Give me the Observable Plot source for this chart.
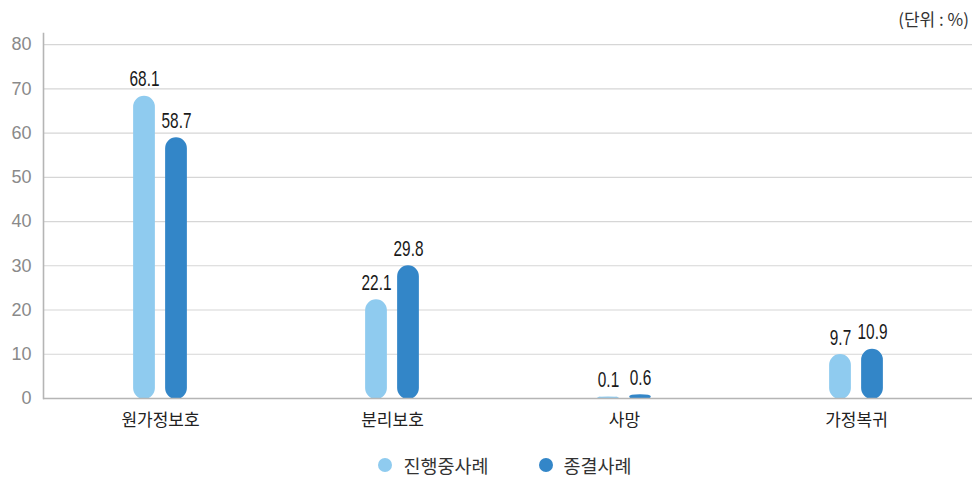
<!DOCTYPE html>
<html>
<head>
<meta charset="utf-8">
<script src="https://cdn.jsdelivr.net/npm/d3@7"></script>
<script src="https://cdn.jsdelivr.net/npm/@observablehq/plot@0.6"></script>
<style>
  body { margin: 0; background: #fff; font-family: "Noto Sans CJK KR", "Noto Sans", sans-serif; }
  #wrap { position: relative; width: 972px; height: 480px; }
  #unit { height: 30px; position: relative; }
  #unit span { position: absolute; right: 3px; top: 6px; font-size: 17px; color: #333; white-space: pre; }
  #legend { height: 30px; display: flex; justify-content: center; align-items: center; gap: 50px; font-size: 18.5px; color: #333; padding-left: 38px;}
  #legend .item { display: flex; align-items: center; gap: 11px; }
  #legend .dot { width: 14px; height: 14px; border-radius: 50%; display: inline-block; }
</style>
</head>
<body>
<div id="wrap">
  <div id="unit"><span>(단위 : %)</span></div>
  <div id="chart"></div>
  <div id="legend"></div>
</div>
<script>
const categories = ["원가정보호", "분리보호", "사망", "가정복귀"];
const seriesNames = ["진행중사례", "종결사례"];
const ongoing = [68.1, 22.1, 0.1, 9.7];
const closed = [58.7, 29.8, 0.6, 10.9];
const yTicks = [0, 10, 20, 30, 40, 50, 60, 70, 80];
const colors = ["#8fcbef", "#3386c8"];

const ongoingData = categories.map((c, i) => ({category: c, value: ongoing[i]}));
const closedData = categories.map((c, i) => ({category: c, value: closed[i]}));

const width = 972, height = 420;
const marginLeft = 43, marginRight = 0;
const half = (width - marginLeft - marginRight) / categories.length / 2;
const barW = 20, gap = 12;

const fmt = d3.format(".1f");
const numFont = "'Liberation Sans', 'Noto Sans', sans-serif";

const chart = Plot.plot({
  width, height,
  marginTop: 3, marginBottom: 52, marginLeft, marginRight,
  style: {fontSize: "17px", fontFamily: "'Noto Sans CJK KR', sans-serif"},
  x: {domain: categories, padding: 0, label: null},
  y: {domain: [0, 82.5], label: null},
  marks: [
    Plot.ruleY(yTicks.filter(d => d > 0), {stroke: "#d6d6d6", strokeWidth: 1.2}),
    Plot.barY(ongoingData, {x: "category", y: "value", fill: colors[0], stroke: colors[0], strokeWidth: 2, rx: barW / 2,
      insetLeft: half - gap / 2 - barW, insetRight: half + gap / 2}),
    Plot.barY(closedData, {x: "category", y: "value", fill: colors[1], stroke: colors[1], strokeWidth: 2, rx: barW / 2,
      insetLeft: half + gap / 2, insetRight: half - gap / 2 - barW}),
    Plot.text(ongoingData, {x: "category", y: "value", text: d => fmt(d.value), className: "vlabel",
      dx: -(gap / 2 + barW / 2), dy: -18, fontSize: 22, fill: "#1a1a1a", fontFamily: numFont}),
    Plot.text(closedData, {x: "category", y: "value", text: d => fmt(d.value), className: "vlabel",
      dx: gap / 2 + barW / 2, dy: -18, fontSize: 22, fill: "#1a1a1a", fontFamily: numFont}),
    Plot.ruleY([0], {stroke: "#b5b5b5", strokeWidth: 1.6}),
    Plot.frame({anchor: "left", stroke: "#b5b5b5", strokeWidth: 1.6}),
    Plot.axisY({ticks: yTicks, tickSize: 0, tickPadding: 12, fontSize: 18, fill: "#8a8a8a",
      fontFamily: "'Liberation Sans', sans-serif", label: null}),
    Plot.axisX({tickSize: 0, tickPadding: 15, fontSize: 17, fill: "#222",
      fontFamily: "'Noto Sans CJK KR', sans-serif", label: null})
  ]
});
chart.style.overflow = "visible";
document.getElementById("chart").appendChild(chart);

// condense the value labels horizontally around their anchor
chart.querySelectorAll("g.vlabel text").forEach(t => {
  const tr = t.getAttribute("transform");
  if (tr) {
    t.setAttribute("transform", tr + " scale(0.7,1)");
  } else {
    const x = +t.getAttribute("x") || 0;
    t.setAttribute("transform", `translate(${x},0) scale(0.7,1) translate(${-x},0)`);
  }
});

const legend = document.getElementById("legend");
seriesNames.forEach((name, i) => {
  const item = document.createElement("div");
  item.className = "item";
  const dot = document.createElement("span");
  dot.className = "dot";
  dot.style.background = colors[i];
  const label = document.createElement("span");
  label.textContent = name;
  item.appendChild(dot);
  item.appendChild(label);
  legend.appendChild(item);
});
</script>
</body>
</html>
